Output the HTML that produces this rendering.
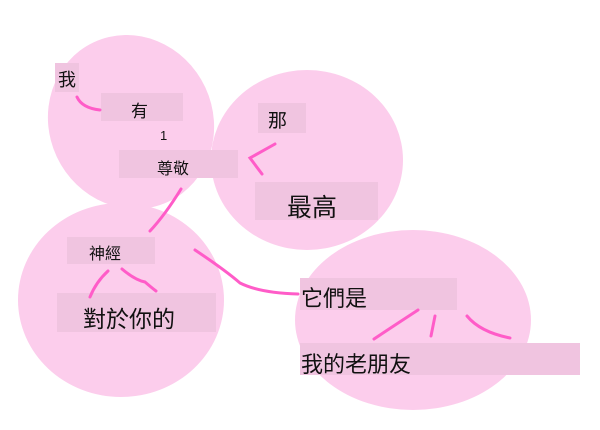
<!DOCTYPE html>
<html><head><meta charset="utf-8"><style>
html,body{margin:0;padding:0;background:#fff;width:600px;height:430px;overflow:hidden}
svg{display:block}
text{font-family:"Liberation Sans","Noto Sans CJK TC",sans-serif;fill:#111}
</style></head><body>
<svg width="600" height="430" viewBox="0 0 600 430" xmlns="http://www.w3.org/2000/svg">
<g fill="#fccdec">
<ellipse cx="131" cy="122" rx="82" ry="88" transform="rotate(-25 131 122)"/>
<ellipse cx="307" cy="160" rx="96" ry="90"/>
<ellipse cx="121" cy="300" rx="103" ry="97"/>
<ellipse cx="413" cy="320" rx="118" ry="90"/>
</g>
<g fill="#f0c4e0">
<rect x="55" y="63" width="24" height="29"/>
<rect x="101" y="93" width="82" height="28"/>
<rect x="119" y="150" width="119" height="28"/>
<rect x="258" y="103" width="48" height="30"/>
<rect x="255" y="182" width="123" height="38"/>
<rect x="67" y="237" width="88" height="27"/>
<rect x="57" y="293" width="159" height="39"/>
<rect x="300" y="278" width="157" height="32"/>
<rect x="300" y="343" width="280" height="32"/>
</g>
<g fill="none" stroke="#ff5cc8" stroke-width="3" stroke-linecap="round">
<path d="M77 97 Q82 108 100 110"/>
<path d="M275 144 L250 158 L262 174"/>
<path d="M181 189 Q165 215 150 231"/>
<path d="M108 271 Q96 282 90 297"/>
<path d="M122 269 Q135 280 145 282 Q152 288 156 291"/>
<path d="M195 250 Q225 270 240 283 Q260 293 298 294"/>
<path d="M418 310 Q395 325 374 339"/>
<path d="M435 316 L431 336"/>
<path d="M467 316 Q480 332 510 338"/>
</g>
<text x="58" y="86" font-size="18">我</text>
<text x="131" y="117" font-size="17">有</text>
<text x="160" y="140" font-size="13">1</text>
<text x="157" y="174" font-size="16">尊敬</text>
<text x="268" y="127" font-size="19">那</text>
<text x="287" y="216" font-size="25">最高</text>
<text x="89" y="259" font-size="16">神經</text>
<text x="83" y="327" font-size="23">對於你的</text>
<text x="301" y="306" font-size="22">它們是</text>
<text x="301" y="372" font-size="22">我的老朋友</text>
</svg>
</body></html>
